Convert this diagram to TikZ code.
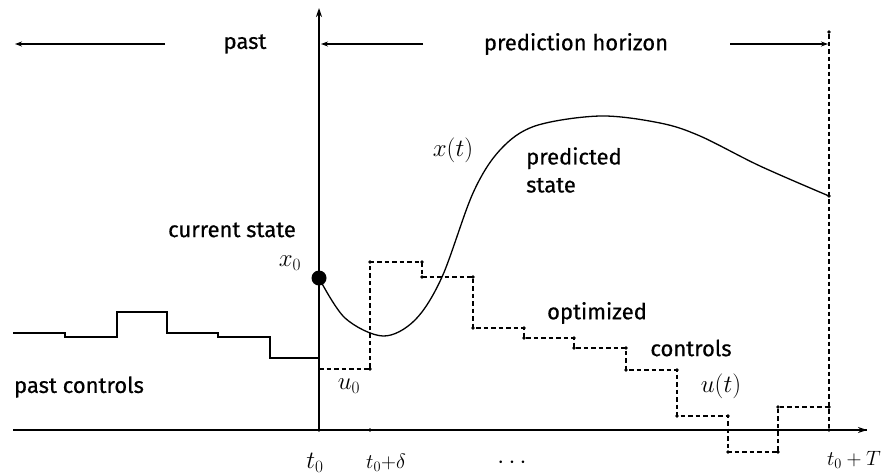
\documentclass[tikz,border=0pt]{standalone}
\usepackage{fontspec}
\setsansfont{Fira Sans}[FakeBold=0.6]
\usetikzlibrary{arrows.meta}
\begin{document}
\begin{tikzpicture}[x=1pt,y=-1pt,
  lbl/.style={font=\sffamily\fontsize{22}{25}\selectfont, inner sep=0pt},
  mlbl/.style={font=\fontsize{24}{27}\selectfont, inner sep=0pt},
  axisline/.style={line width=1.3pt},
  pastline/.style={line width=1.8pt},
  ctrl/.style={line width=1.2pt, dash pattern=on 4.5pt off 3pt},
  arr/.style={line width=1.1pt,-{Stealth[length=7pt,width=5pt]}},
  cdot/.style={circle, fill=black, inner sep=0pt, minimum size=3.6pt}]
\useasboundingbox (0,0) rectangle (883,475);
% axes
\coordinate (O) at (319,430);
\coordinate (ytop) at (319,8);
\coordinate (xleft) at (13,430);
\coordinate (xright) at (867,430);
\draw[axisline] (xleft) -- (xright);
\draw[axisline,-{Stealth[length=9pt,width=6pt]}] (O) -- (ytop);
\draw[axisline,-{Stealth[length=9pt,width=6pt]}] (O) -- (xright);
% ticks
\node[cdot] (tk0) at (319,430) {};
\node[cdot] (tk1) at (370,430) {};
\node[cdot] (tkT) at (829,430) {};
% horizon line
\node[cdot] (hTop) at (829,32) {};
\draw[ctrl] (hTop) -- (tkT);
% top arrows and labels
\coordinate (pa1) at (165,44); \coordinate (pa2) at (15,44);
\draw[arr] (pa1) -- (pa2);
\node[lbl] (past) at (245,44) {past};
\coordinate (ph1) at (423,44); \coordinate (ph2) at (321,44);
\draw[arr] (ph1) -- (ph2);
\node[lbl] (ph) at (576,44) {prediction horizon};
\coordinate (pr1) at (730,44); \coordinate (pr2) at (828,44);
\draw[arr] (pr1) -- (pr2);
% past controls
\draw[pastline] (13,333) -- (65,333) -- (65,337) -- (117,337) -- (117,312) -- (167,312)
  -- (167,333) -- (218,333) -- (218,337) -- (270,337) -- (270,358) -- (319,358);
% predicted state curve
\draw[line width=1.3pt] plot[smooth, tension=0.55] coordinates {
  (319,278) (345,318) (383,336) (415,320) (442,277) (473,193) (500,150) (535,126)
  (600,116) (660,123) (700,136) (760,166) (829,196)};
\node[cdot] (cend) at (829,196) {};
\node[circle, fill=black, inner sep=0pt, minimum size=15pt] (x0dot) at (319,278) {};
% optimized controls
\draw[ctrl] (319,369) -- (370,369) -- (370,262) -- (422,262) -- (422,277) -- (473,277)
  -- (473,328) -- (524,328) -- (524,338) -- (574,338) -- (574,348) -- (626,348)
  -- (626,370) -- (677,370) -- (677,416) -- (728,416) -- (728,452) -- (778,452)
  -- (778,407) -- (829,407);
\foreach \p in {(370,369),(370,262),(422,262),(422,277),(473,277),(473,328),(524,328),
  (524,338),(574,338),(574,348),(626,348),(626,370),(677,370),(677,416),(728,416),
  (728,452),(778,452),(778,407),(829,407)}
  \fill \p circle (1.8pt);
% labels
\node[mlbl] (xt) at (453,150) {$x(t)$};
\node[lbl, align=left, anchor=west] (pred) at (526,170) {predicted\\[3pt]state};
\node[lbl] (cur) at (232,230) {current state};
\node[mlbl] (x0) at (290,263) {$x_0$};
\node[mlbl] (u0) at (349,386) {$u_0$};
\node[lbl] (pc) at (79,387) {past controls};
\node[lbl] (opt) at (597,313) {optimized};
\node[lbl] (ctl) at (691,348) {controls};
\node[mlbl] (ut) at (721,386) {$u(t)$};
\node[mlbl] (t0) at (315,463) {$t_0$};
\node[mlbl, font=\fontsize{21}{24}\selectfont] (t0d) at (386,463) {$t_0{+}\delta$};
\node[mlbl] (dots) at (512,463) {$\cdots$};
\node[mlbl, font=\fontsize{22}{25}\selectfont] (t0T) at (854,460) {$t_0+T$};
\end{tikzpicture}
\end{document}
